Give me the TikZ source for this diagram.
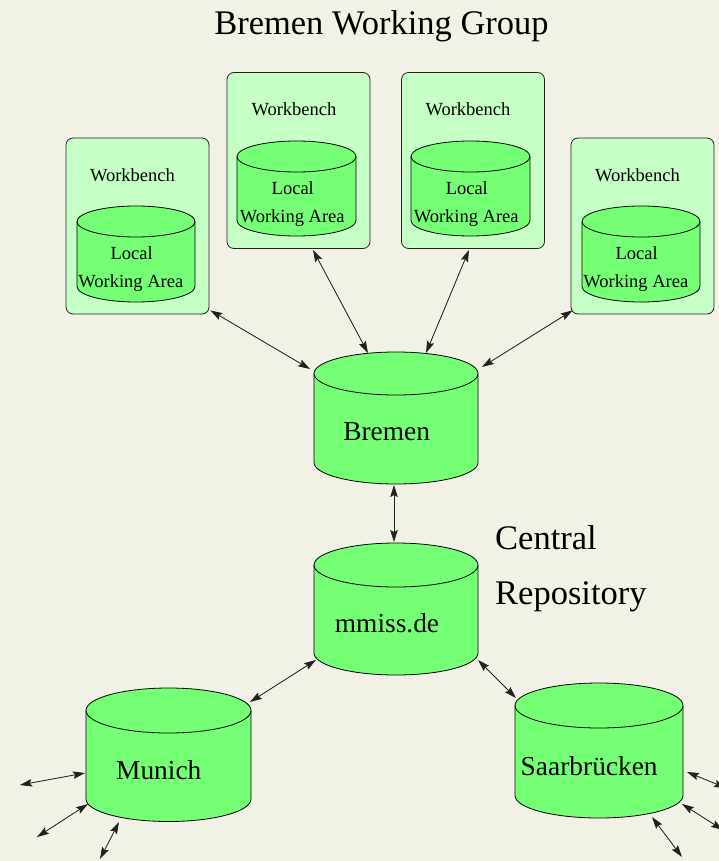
\documentclass[tikz,border=0pt]{standalone}
\usepackage{fontspec}
\setmainfont{Liberation Serif}
\usetikzlibrary{arrows.meta}
\definecolor{bgc}{RGB}{242,241,230}
\definecolor{wbfill}{RGB}{198,255,198}
\definecolor{cylfill}{RGB}{116,255,116}
\definecolor{edgec}{RGB}{30,35,30}
\newcommand\drawcyl[5]{%
  \fill[cylfill] (#1-#4,#2) -- (#1-#4,#3) arc[start angle=180,end angle=0,x radius=#4,y radius=#5] -- (#1+#4,#2) arc[start angle=0,end angle=-180,x radius=#4,y radius=#5] -- cycle;
  \draw[cylline] (#1-#4,#2) -- (#1-#4,#3) arc[start angle=180,end angle=0,x radius=#4,y radius=#5] -- (#1+#4,#2);
  \draw[cylline] (#1,#2) ellipse[x radius=#4,y radius=#5];
}
\tikzset{
  wbbox/.style={draw=edgec, fill=wbfill, rounded corners=7pt, line width=0.8pt, inner sep=0pt, minimum width=143pt, minimum height=176pt},
  cylline/.style={draw=black, line width=0.8pt},
  hold/.style={inner sep=0pt, outer sep=0pt, draw=none, fill=none},
  conn/.style={{Stealth[length=12pt,width=7.5pt,inset=2pt]}-{Stealth[length=12pt,width=7.5pt,inset=2pt]}, line width=0.8pt, draw=edgec, fill=edgec},
  bigtxt/.style={font=\fontsize{34.5}{40}\selectfont, anchor=base, inner sep=0pt},
  midtxt/.style={font=\fontsize{27.4}{32}\selectfont, anchor=base, inner sep=0pt},
  smalltxt/.style={font=\fontsize{18.5}{22}\selectfont, anchor=base, inner sep=0pt},
}
\begin{document}
\begin{tikzpicture}[x=1pt,y=-1pt]
\fill[bgc] (0,0) rectangle (719,861);
\useasboundingbox (0,0) rectangle (719,861);
\clip (0,0) rectangle (719,861);

% title
\node[bigtxt] (title) at (381.5,35) {Bremen Working Group};

% workbench boxes
\node[wbbox] (wb1) at (137.5,226) {};
\node[wbbox] (wb2) at (298.5,160.5) {};
\node[wbbox] (wb3) at (473,160.5) {};
\node[wbbox] (wb4) at (642.5,226) {};

% local cylinders
\drawcyl{136}{221.5}{286.5}{59}{15.5}
\drawcyl{296.5}{156.5}{220.5}{59.5}{15.5}
\drawcyl{470.5}{156.5}{220.5}{59.5}{15.5}
\drawcyl{641}{221.5}{286.5}{59}{15.5}

\node[smalltxt] (wt1) at (132.5,182) {Workbench};
\node[smalltxt] (wt2) at (294,116) {Workbench};
\node[smalltxt] (wt3) at (468,116) {Workbench};
\node[smalltxt] (wt4) at (637.5,182) {Workbench};

\node[smalltxt] (l1) at (131.7,259) {Local};
\node[smalltxt] (a1) at (130.8,287) {Working Area};
\node[smalltxt] (l2) at (292.8,194) {Local};
\node[smalltxt] (a2) at (292.2,222) {Working Area};
\node[smalltxt] (l3) at (466.8,194) {Local};
\node[smalltxt] (a3) at (466.2,222) {Working Area};
\node[smalltxt] (l4) at (636.7,259) {Local};
\node[smalltxt] (a4) at (635.8,287) {Working Area};

% big cylinders
\drawcyl{396}{373.5}{462.5}{82}{21.5}
\drawcyl{396}{565}{653}{82}{22}
\drawcyl{168.5}{710.5}{799}{82.5}{22.5}
\drawcyl{599}{705.5}{795.5}{84}{22.5}

\node[hold, minimum width=164pt, minimum height=132pt] (bremen) at (396,418) {};
\node[hold, minimum width=164pt, minimum height=132pt] (mmiss) at (396,609) {};
\node[hold, minimum width=165pt, minimum height=133pt] (munich) at (168.5,754.5) {};
\node[hold, minimum width=168pt, minimum height=135pt] (saar) at (599,750.5) {};

\node[midtxt] (tb) at (386.7,440.7) {Bremen};
\node[midtxt] (tm) at (387,632.7) {mmiss.de};
\node[midtxt] (tmu) at (158.8,779) {Munich};
\node[midtxt] (tsa) at (589.2,775) {Saarbrücken};

\node[bigtxt, anchor=base west] (central) at (495,549) {Central};
\node[bigtxt, anchor=base west] (repo) at (495,604) {Repository};

% free ends
\coordinate (m1) at (20,785);
\coordinate (m2) at (37,837);
\coordinate (m3) at (100,859);
\coordinate (s1) at (726,788);
\coordinate (s2) at (723,830);
\coordinate (s3) at (682,857);

% connectors
\draw[conn] ([shift={(1,-4)}]wb1.south east) -- ([shift={(-4,17)}]bremen.north west);
\draw[conn] ([shift={(14.5,1)}]wb2.south) -- ([shift={(-28,1)}]bremen.north);
\draw[conn] ([shift={(-4,1)}]wb3.south) -- ([shift={(30,1)}]bremen.north);
\draw[conn] ([shift={(2,-4)}]wb4.south west) -- ([shift={(4,15)}]bremen.north east);
\draw[conn] ([shift={(-2,1)}]bremen.south) -- ([shift={(-2,-1)}]mmiss.north);
\draw[conn] ([shift={(2,-15)}]mmiss.south west) -- ([shift={(-1,14)}]munich.north east);
\draw[conn] ([shift={(0,-15)}]mmiss.south east) -- ([shift={(1,15)}]saar.north west);
\draw[conn] ([shift={(-1,18.5)}]munich.west) -- (m1);
\draw[conn] ([shift={(2,-17)}]munich.south west) -- (m2);
\draw[conn] ([shift={(-49.5,1)}]munich.south) -- (m3);
\draw[conn] ([shift={(4,21.5)}]saar.east) -- (s1);
\draw[conn] ([shift={(-1,-14)}]saar.south east) -- (s2);
\draw[conn] ([shift={(53,-1)}]saar.south) -- (s3);
\end{tikzpicture}
\end{document}
